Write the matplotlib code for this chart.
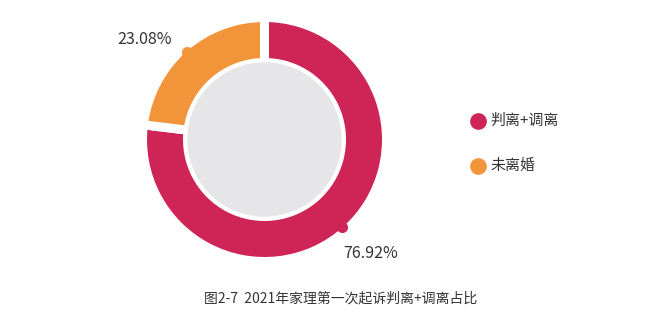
import numpy as np
import matplotlib
matplotlib.use('Agg')
import matplotlib.pyplot as plt
from matplotlib.patches import Circle

plt.rcParams['font.family'] = ['Noto Sans CJK SC', 'DejaVu Sans']

# 数据
categories = ['判离+调离', '未离婚']
values = [76.92, 23.08]
labels = ['76.92%', '23.08%']
title = '图2-7  2021年家理第一次起诉判离+调离占比'

colors = ['#CE2456', '#F2953A']
text_color = '#333333'

W, H = 652, 326
fig = plt.figure(figsize=(W / 100, H / 100), dpi=100)
ax = fig.add_axes([0, 0, 1, 1])

cx, cy = 264.5, H - 139.5
gap = 9  # px
r_out = 117.5 + gap / 2
r_in = 81.5 - gap / 2

wedges, _ = ax.pie(values, colors=colors, startangle=90, counterclock=False,
                   center=(cx, cy), radius=r_out, frame=True,
                   wedgeprops=dict(width=r_out - r_in, edgecolor='white',
                                   linewidth=gap * 0.72))
ax.set_xlim(0, W)
ax.set_ylim(0, H)
ax.set_aspect('equal')
ax.axis('off')

# 中间灰色圆
ax.add_patch(Circle((cx, cy), 76.5, color='#E6E6E8', zorder=5))

# 标签和小圆点
offsets = [(28, -26), (-42, 12)]
for w, lab, col, (dx, dy) in zip(wedges, labels, colors, offsets):
    ang = np.deg2rad((w.theta1 + w.theta2) / 2)
    px = cx + 117.5 * np.cos(ang)
    py = cy + 117.5 * np.sin(ang)
    ax.plot(px, py, 'o', color=col, markersize=7, zorder=6)
    ax.text(px + dx, py + dy, lab, fontsize=11.5, color=text_color,
            ha='center', va='center')

# 图例
for i, (cat, col) in enumerate(zip(categories, colors)):
    ly = H - (121 + i * 45)
    ax.plot(478, ly, 'o', color=col, markersize=11)
    ax.text(490, ly, cat, fontsize=10.8, color=text_color, va='center', ha='left')

ax.text(341, H - 299, title, fontsize=10, color=text_color, ha='center', va='center')

fig.savefig('out.png', dpi=100)
